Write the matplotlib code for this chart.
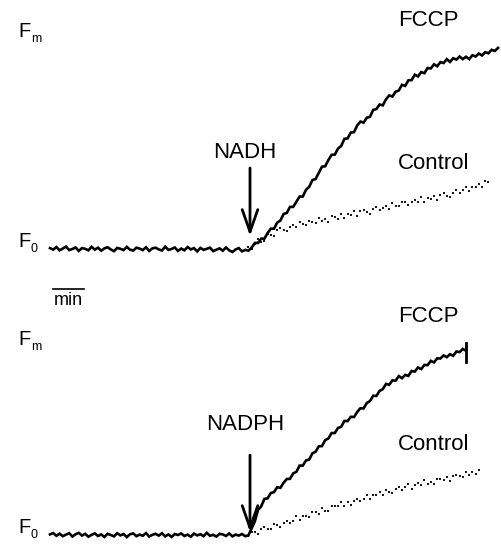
import numpy as np
import matplotlib
matplotlib.use("Agg")
import matplotlib.pyplot as plt

plt.rcParams['font.family'] = ['Liberation Sans', 'DejaVu Sans']

# ---- data (time in min, fluorescence as fraction of F0 -> Fm) ----
STEP_F = 0.1     # sampling of FCCP traces (min), starting at t = 0
STEP_C = 0.1     # sampling of Control traces (min)

nadh_fccp = [
    0.004, -0.003, 0.009, -0.006, 0.002, 0.011, -0.005, 0.000, 0.007, -0.009,
    0.004, 0.001, -0.006, 0.010, -0.003, 0.006, -0.008, 0.003, 0.008, -0.002,
    -0.010, 0.005, 0.001, -0.005, 0.010, -0.003, -0.007, 0.006, 0.002, -0.005,
    0.008, -0.009, 0.003, 0.006, -0.002, -0.007, 0.011, -0.004, 0.000, 0.007,
    -0.009, 0.002, -0.006, 0.009, -0.002, 0.004, -0.011, 0.005, -0.004, 0.001,
    0.006, -0.010, -0.003, 0.003, -0.008, 0.007, -0.006, -0.014, -0.002, 0.004,
    -0.011, -0.004, -0.008,
    0.006, 0.028, 0.028, 0.048, 0.048, 0.074, 0.094, 0.094, 0.122, 0.132,
    0.162, 0.167, 0.195, 0.195, 0.219, 0.243, 0.243, 0.274, 0.288, 0.319,
    0.324, 0.353, 0.381, 0.383, 0.412, 0.436, 0.437, 0.465, 0.477, 0.510,
    0.512, 0.539, 0.541, 0.572, 0.590, 0.585, 0.608, 0.612, 0.644, 0.648,
    0.669, 0.665, 0.693, 0.711, 0.706, 0.728, 0.734, 0.760, 0.755, 0.781,
    0.782, 0.807, 0.799, 0.819, 0.814, 0.838, 0.836, 0.855, 0.846, 0.865,
    0.861, 0.879, 0.866, 0.883, 0.877, 0.891, 0.879, 0.890, 0.879, 0.897,
    0.891, 0.905, 0.896, 0.911, 0.906, 0.922, 0.917, 0.931]
nadh_control_start = 6.2
nadh_control = [
    0.008, -0.002, 0.023, 0.044, 0.034, 0.039, 0.068, 0.066, 0.061, 0.086,
    0.097, 0.087, 0.085, 0.104, 0.113, 0.101, 0.127, 0.114, 0.109, 0.130,
    0.126, 0.120, 0.143, 0.129, 0.141, 0.126, 0.151, 0.146, 0.141, 0.162,
    0.144, 0.160, 0.158, 0.176, 0.153, 0.174, 0.181, 0.170, 0.163, 0.184,
    0.195, 0.179, 0.190, 0.200, 0.186, 0.212, 0.199, 0.198, 0.218, 0.216,
    0.202, 0.218, 0.227, 0.216, 0.239, 0.217, 0.234, 0.231, 0.245, 0.225,
    0.248, 0.258, 0.245, 0.243, 0.257, 0.271, 0.257, 0.271, 0.287, 0.267,
    0.287, 0.285, 0.301, 0.285, 0.314, 0.310]

nadph_fccp = [
    0.003, 0.010, -0.004, 0.007, -0.006, 0.002, 0.009, -0.008, 0.004, 0.011,
    -0.003, 0.006, -0.009, 0.001, 0.008, -0.005, 0.003, -0.010, 0.006, 0.000,
    -0.007, 0.009, -0.002, 0.005, -0.011, 0.004, 0.008, -0.006, 0.002, -0.004,
    0.010, -0.008, 0.001, 0.006, -0.003, 0.009, -0.007, 0.003, -0.010, 0.005,
    0.000, 0.008, -0.005, 0.002, -0.009, 0.007, -0.002, 0.004, -0.006, 0.011,
    -0.004, 0.001, -0.008, 0.006, 0.003, -0.005, 0.008, -0.007, 0.002, -0.003,
    0.005, -0.006, -0.002,
    0.034, 0.069, 0.128, 0.147, 0.185, 0.188, 0.215, 0.220, 0.245, 0.242,
    0.268, 0.287, 0.288, 0.316, 0.324, 0.356, 0.356, 0.382, 0.387, 0.419,
    0.427, 0.455, 0.456, 0.487, 0.495, 0.523, 0.523, 0.549, 0.555, 0.585,
    0.584, 0.606, 0.605, 0.631, 0.650, 0.649, 0.677, 0.687, 0.714, 0.713,
    0.739, 0.748, 0.775, 0.770, 0.793, 0.791, 0.815, 0.804, 0.821, 0.816,
    0.841, 0.838, 0.859, 0.851, 0.872, 0.871, 0.893, 0.885, 0.906, 0.905,
    0.921, 0.912, 0.927, 0.919, 0.941, 0.938, 0.954, 0.945]
nadph_fccp_end = [0.985, 0.887]   # vertical stroke at the end of the trace
nadph_control_start = 6.2
nadph_control = [
    -0.006, 0.015, 0.014, 0.004, 0.029, 0.041, 0.029, 0.029, 0.055, 0.049,
    0.039, 0.063, 0.073, 0.063, 0.074, 0.095, 0.078, 0.099, 0.098, 0.090,
    0.119, 0.117, 0.110, 0.138, 0.124, 0.123, 0.147, 0.147, 0.147, 0.167,
    0.150, 0.171, 0.153, 0.176, 0.187, 0.176, 0.187, 0.205, 0.183, 0.205,
    0.203, 0.218, 0.205, 0.231, 0.218, 0.217, 0.237, 0.247, 0.233, 0.244,
    0.259, 0.238, 0.258, 0.266, 0.256, 0.280, 0.259, 0.274, 0.264, 0.286,
    0.285, 0.280, 0.299, 0.279, 0.301, 0.309, 0.301, 0.299, 0.322, 0.310,
    0.324, 0.311, 0.333]

addition_time = 6.25
labels_top = ["NADH", "FCCP", "Control"]
labels_bottom = ["NADPH", "FCCP", "Control"]

# ---- figure ----
W, H = 502, 545
fig = plt.figure(figsize=(W / 100, H / 100), dpi=100)

def px(x, y):
    return x / W, 1 - y / H

ax_top = fig.add_axes([0, 275 / H, 1, 270 / H])
ax_bot = fig.add_axes([0, 0, 1, 275 / H])
for ax in (ax_top, ax_bot):
    ax.set_axis_off()
    ax.set_xlim(-50 / 32, 452 / 32)
ax_top.set_ylim((249 - 270) / 216, 249 / 216)
ax_bot.set_ylim((535 - 545) / 195, (535 - 270) / 195)

def draw(ax, fccp, ctrl, ctrl_start, arrow_top, arrow_tip, end=None):
    tf = STEP_F * np.arange(len(fccp))
    tc = ctrl_start + STEP_C * np.arange(len(ctrl))
    ax.plot(tc, ctrl, linestyle='none', marker='s', markersize=1.5,
            color='#1a1a1a', markeredgewidth=0)
    ax.plot(tf, fccp, color='black', lw=1.9, solid_joinstyle='miter')
    if end is not None:
        ax.plot([tf[-1], tf[-1]], end, color='black', lw=2.0)
    ax.annotate('', xy=(addition_time, arrow_tip), xytext=(addition_time, arrow_top),
                arrowprops=dict(arrowstyle='->,head_length=0.8,head_width=0.28',
                                mutation_scale=20, lw=2, color='black',
                                shrinkA=0, shrinkB=0))

draw(ax_top, nadh_fccp, nadh_control, nadh_control_start, 0.375, 0.06)
draw(ax_bot, nadph_fccp, nadph_control, nadph_control_start, 0.41, 0.015,
     end=nadph_fccp_end)

fs = 16
# top panel labels
fig.text(*px(245, 153), labels_top[0], fontsize=fs, ha='center', va='center')
fig.text(*px(428, 20), labels_top[1], fontsize=fs, ha='center', va='center')
fig.text(*px(434, 163), labels_top[2], fontsize=fs, ha='center', va='center')
# bottom panel labels
fig.text(*px(245, 425), labels_bottom[0], fontsize=fs, ha='center', va='center')
fig.text(*px(428, 317), labels_bottom[1], fontsize=fs, ha='center', va='center')
fig.text(*px(434, 445), labels_bottom[2], fontsize=fs, ha='center', va='center')

# F_m / F_0 markers
def flabel(x, y, sub):
    fig.text(*px(x, y), "F", fontsize=14.5, ha='left', va='baseline')
    fig.text(*px(x + 13, y + 5), sub, fontsize=9, ha='left', va='baseline')

flabel(18, 37, "m")
flabel(18, 247, "0")
flabel(18, 345, "m")
flabel(18, 533, "0")

# time scale bar: 1 min
fig.text(*px(68, 305), "min", fontsize=13, ha='center', va='baseline')
ax_top.plot([0.1, 1.05], [(249 - 289) / 216] * 2, color='black', lw=1.2, clip_on=False)

fig.savefig("out.png", dpi=100)
